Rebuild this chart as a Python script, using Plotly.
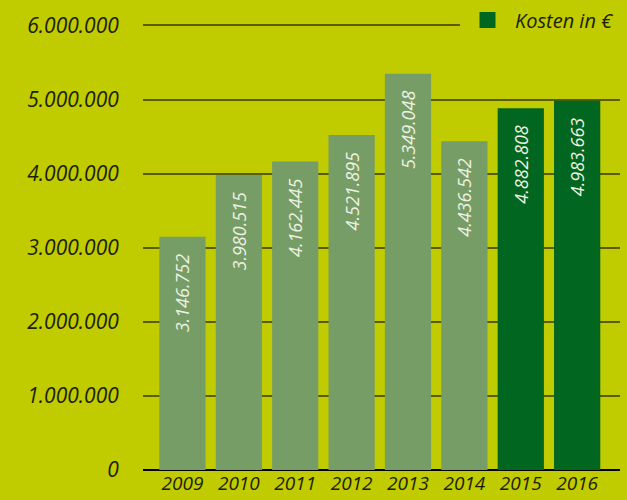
import plotly.graph_objects as go

years = ["2009", "2010", "2011", "2012", "2013", "2014", "2015", "2016"]
kosten = [3146752, 3980515, 4162445, 4521895, 5349048, 4436542, 4882808, 4983663]
y_ticks = [0, 1000000, 2000000, 3000000, 4000000, 5000000, 6000000]
legend_name = "Kosten in €"

BG = "#c0cc00"
LIGHT = "#779d67"
DARK = "#006620"
FONT = "Open Sans"

# 2009-2014 hell, 2015/2016 dunkel
bar_colors = [LIGHT] * 6 + [DARK] * 2

fig = go.Figure()
fig.add_trace(go.Bar(
    x=years, y=kosten,
    marker=dict(color=bar_colors, line=dict(width=0)),
    texttemplate="%{y:,.0f}\u00a0\u00a0\u00a0",
    textposition="inside", insidetextanchor="end", textangle=-90,
    textfont=dict(family=FONT, size=18, color="#eef2e2", style="italic"),
    showlegend=False, hoverinfo="x+y",
))
# nur fuer die Legende
fig.add_trace(go.Scatter(
    x=[None], y=[None], mode="markers", name=legend_name,
    marker=dict(symbol="square", size=22, color=DARK),
))

fig.update_layout(
    width=627, height=500,
    paper_bgcolor=BG, plot_bgcolor=BG,
    separators=",.",
    margin=dict(l=143, r=7, t=18, b=30, autoexpand=False),
    bargap=0.18,
    font=dict(family=FONT, size=19, color="#1e1e00", style="italic"),
    legend=dict(x=1.0, xanchor="right", y=0.9956, yanchor="middle",
                bgcolor=BG, font=dict(size=20, style="italic"),
                itemsizing="trace", itemwidth=45),
    xaxis=dict(range=[-0.7, 7.76], showgrid=False, showline=False, ticks="",
               tickfont=dict(size=19, style="italic"), automargin=False),
    yaxis=dict(range=[0, 6100000], tickvals=y_ticks, tickformat=",.0f",
               showgrid=True, gridcolor="#5a5c00", gridwidth=2,
               zeroline=True, zerolinecolor="#000000", zerolinewidth=1.5,
               ticks="outside", ticklen=19, tickcolor="rgba(0,0,0,0)",
               tickfont=dict(size=21, style="italic"), automargin=False),
)

fig.write_html("out.html", config={"displayModeBar": False},
               post_script="document.body.style.margin='0';")
